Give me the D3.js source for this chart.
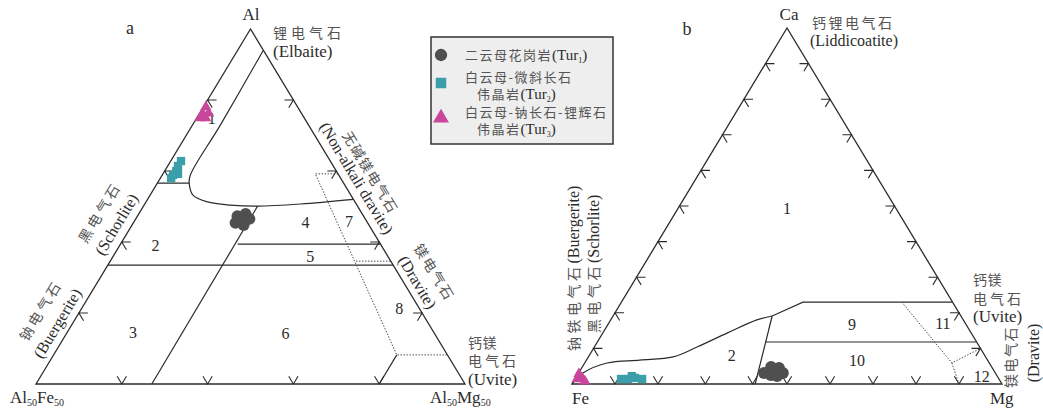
<!DOCTYPE html>
<html>
<head>
<meta charset="utf-8">
<script src="https://cdn.jsdelivr.net/npm/d3@7"></script>
<style>
  body { margin: 0; background: #fff; }
  svg { display: block; }
</style>
</head>
<body>
<svg id="chart" width="1043" height="408"></svg>
<script>
// ---------------------------------------------------------------
// Panel a: Al – Al50Fe50 – Al50Mg50 ternary, values as [Al, Fe, Mg] %
// ---------------------------------------------------------------
const aTicksLeft = [20, 40, 60, 80];
const aTicksRight = [20, 40, 60, 80];
const aTicksBase = [20, 40, 60, 80];

// boundary of field 1 (Li-rich granitoid pegmatites and aplites)
const aField1Curve = [
  [94, 0, 6], [73, 20.5, 6.5], [58.6, 34.8, 6.6], [56.1, 36.2, 7.7],
  [53.2, 36.8, 10.0], [51.3, 34.4, 14.3], [50.4, 29.5, 20.1],
  [50.1, 23.3, 26.6], [50.7, 13.0, 36.3], [52, 0, 48]
];
const aSolidLines = [
  [[56.6, 43.4, 0], [56.6, 36.0, 7.4]],
  [[50.1, 23.3, 26.6], [0, 73, 27]],
  [[39.4, 33.3, 27.3], [39.4, 0, 60.6]],
  [[33.5, 66.5, 0], [33.5, 0, 66.5]],
  [[8.2, 11.8, 80], [0, 20, 80]]
];
const aDottedLines = [
  [[59.2, 0, 40.8], [59.2, 5.3, 35.5], [8.2, 11.8, 80], [8.2, 0, 91.8]],
  [[34.6, 8.1, 57.3], [34.6, 0, 65.4]]
];
const aFieldNames = ["1", "2", "3", "4", "5", "6", "7", "8"];
const aFieldAnchors = [
  [74.9, 21.6, 3.5], [38.9, 52.7, 8.4], [14.4, 70.2, 15.4], [45.6, 14.4, 40.0],
  [35.8, 18.2, 46.0], [14.1, 34.8, 51.1], [45.9, 4.1, 50.0], [21.4, 4.6, 74.0]
];
// two-mica granite (Tur1)
const aTur1 = [
  [47.3, 29.4, 23.3], [47.9, 27.2, 24.9], [46.5, 27.0, 26.5],
  [45.9, 29.1, 25.0], [45.4, 30.8, 23.8], [44.8, 29.2, 26.0]
];
// muscovite-microcline pegmatite (Tur2)
const aTur2 = [
  [62.8, 34.8, 2.4], [61.4, 36.2, 2.4], [60.0, 37.3, 2.7],
  [58.9, 38.6, 2.5], [58.0, 39.5, 2.5], [59.2, 37.3, 3.5]
];
// muscovite-albite-spodumene pegmatite (Tur3)
const aTur3 = [
  [78.0, 21.4, 0.6], [76.3, 23.0, 0.7], [76.3, 21.6, 2.1],
  [74.9, 24.3, 0.8], [74.9, 23.0, 2.1]
];

// ---------------------------------------------------------------
// Panel b: Ca – Fe – Mg ternary, values as [Ca, Fe, Mg] %
// ---------------------------------------------------------------
const bTicksLeft = [10, 20, 30, 40, 50, 60, 70, 80, 90];
const bTicksRight = [10, 20, 30, 40, 50, 60, 70, 80, 90];
const bTicksBase = [10, 20, 31, 42, 50, 60, 70, 80, 90];

const bField2Curve = [
  [0, 100, 0], [3.1, 95.9, 1.0], [5.9, 88.9, 5.2], [6.7, 80.9, 12.4],
  [7.6, 72.7, 19.7], [10.4, 65.7, 23.9], [14.3, 56.8, 28.9],
  [18.0, 48.0, 34.0], [19.1, 43.9, 37.0]
];
const bSolidLines = [
  [[19.1, 43.9, 37.0], [23.0, 34.8, 42.2], [23.0, 0, 77.0]],
  [[19.1, 43.9, 37.0], [0, 57.4, 42.6]],
  [[11.8, 49.1, 39.1], [11.8, 0, 88.2]]
];
const bDottedLines = [
  [[23.0, 11.8, 65.2], [5.9, 8.7, 85.4], [10, 0, 90]],
  [[5.9, 8.7, 85.4], [0, 10, 90]]
];
const bFieldNames = ["1", "2", "9", "10", "11", "12"];
const bFieldAnchors = [
  [49.4, 25.3, 25.3], [8.1, 58.8, 33.1], [16.6, 26.6, 56.8],
  [6.7, 30.4, 62.9], [17.1, 5.2, 77.7], [2.2, 3.6, 94.2]
];
const bTur1 = [
  [3.1, 53.8, 43.1], [4.8, 51.3, 43.9], [4.5, 49.6, 45.9],
  [3.1, 49.4, 47.5], [2.5, 52.5, 45.0], [2.2, 51.2, 46.6]
];
const bTur2 = [
  [1.4, 87.9, 10.7], [1.4, 86.3, 12.3], [1.7, 84.5, 13.8],
  [1.4, 83.0, 15.6], [2.2, 85.0, 12.8]
];
const bTur3 = [
  [1.4, 98.1, 0.5], [1.7, 96.8, 1.5], [2.8, 97.0, 0.2], [0.8, 96.6, 2.6]
];

// legend entries
const legendSeries = ["Tur1", "Tur2", "Tur3"];
const legendLines = [
  [["二云母花岗岩", "1"]],
  [["白云母-微斜长石", null], ["伟晶岩", "2"]],
  [["白云母-钠长石-锂辉石", null], ["伟晶岩", "3"]]
];

// ---------------------------------------------------------------
const SERIF = "'Liberation Serif','Times New Roman',serif";
const CJK = "'Noto Sans CJK SC','Noto Sans CJK JP',sans-serif";
const INK = "#2b2b2b";
const CJK_INK = "#555";
const COLORS = { Tur1: "#4f4f4f", Tur2: "#3a9fa9", Tur3: "#c8469c" };

const svg = d3.select("#chart");

// maps [top, left, right] percentages onto the page through two linear scales
function makeProjection(left, right, base, top) {
  const sx = d3.scaleLinear().domain([0, 100]).range([left, right]);
  const sy = d3.scaleLinear().domain([0, 100]).range([base, top]);
  return ([t, l, r]) => {
    const s = t + l + r;
    const tt = 100 * t / s, rr = 100 * r / s;
    return [sx(rr + tt / 2), sy(tt)];
  };
}

const unit = (p, q) => {
  const dx = q[0] - p[0], dy = q[1] - p[1], n = Math.hypot(dx, dy);
  return [dx / n, dy / n];
};

function drawPanel(g, proj, cfg) {
  const line = d3.line();
  const V = [[100, 0, 0], [0, 100, 0], [0, 0, 100]].map(proj);

  // ternary tick marks: two short arms parallel to the other two sides
  const sides = [
    { vals: cfg.ticksLeft, at: t => [100 - t, t, 0], u: V[0], v: V[1], w: V[2] },
    { vals: cfg.ticksRight, at: t => [100 - t, 0, t], u: V[0], v: V[2], w: V[1] },
    { vals: cfg.ticksBase, at: t => [0, 100 - t, t], u: V[1], v: V[2], w: V[0] }
  ];
  const L = cfg.tickLen;
  sides.forEach(s => {
    const d1 = unit(s.u, s.w), d2 = unit(s.v, s.w);
    g.append("g").selectAll("path").data(s.vals).join("path")
      .attr("d", t => {
        const p = proj(s.at(t));
        return line([[p[0] + L * d1[0], p[1] + L * d1[1]], p,
                      [p[0] + L * d2[0], p[1] + L * d2[1]]]);
      })
      .attr("fill", "none").attr("stroke", INK).attr("stroke-width", 1.1);
  });

  // field boundaries
  g.append("path")
    .attr("d", d3.line().curve(d3.curveCatmullRom.alpha(0.5))(cfg.curve.map(proj)))
    .attr("fill", "none").attr("stroke", INK).attr("stroke-width", 1.2);
  g.append("g").selectAll("path").data(cfg.solid).join("path")
    .attr("d", d => line(d.map(proj)))
    .attr("fill", "none").attr("stroke", INK).attr("stroke-width", 1.2);
  g.append("g").selectAll("path").data(cfg.dotted).join("path")
    .attr("d", d => line(d.map(proj)))
    .attr("fill", "none").attr("stroke", "#444").attr("stroke-width", 1)
    .attr("stroke-dasharray", "1.4,1.6");

  // triangle outline
  g.append("path")
    .attr("d", d3.line().curve(d3.curveLinearClosed)(V))
    .attr("fill", "none").attr("stroke", INK).attr("stroke-width", 1.3);

  // field numbers
  g.append("g").selectAll("text").data(cfg.fieldNames).join("text")
    .attr("x", (d, i) => proj(cfg.fieldAnchors[i])[0])
    .attr("y", (d, i) => proj(cfg.fieldAnchors[i])[1])
    .attr("text-anchor", "middle").attr("dominant-baseline", "central")
    .attr("font-family", SERIF).attr("font-size", 16).attr("fill", INK)
    .text(d => d);

  // samples
  const symbols = [
    { data: cfg.tur1, type: d3.symbolCircle, size: 110, color: COLORS.Tur1 },
    { data: cfg.tur2, type: d3.symbolSquare, size: 70, color: COLORS.Tur2 },
    { data: cfg.tur3, type: d3.symbolTriangle, size: 55, color: COLORS.Tur3 }
  ];
  symbols.forEach(s => {
    g.append("g").selectAll("path").data(s.data).join("path")
      .attr("transform", d => `translate(${proj(d)})`)
      .attr("d", d3.symbol().type(s.type).size(s.size))
      .attr("fill", s.color);
  });
}

const projA = makeProjection(36, 465, 384, 29);
const projB = makeProjection(572, 1002, 384, 28);

drawPanel(svg.append("g"), projA, {
  ticksLeft: aTicksLeft, ticksRight: aTicksRight, ticksBase: aTicksBase, tickLen: 9,
  curve: aField1Curve, solid: aSolidLines, dotted: aDottedLines,
  fieldNames: aFieldNames, fieldAnchors: aFieldAnchors,
  tur1: aTur1, tur2: aTur2, tur3: aTur3
});
drawPanel(svg.append("g"), projB, {
  ticksLeft: bTicksLeft, ticksRight: bTicksRight, ticksBase: bTicksBase, tickLen: 9,
  curve: bField2Curve, solid: bSolidLines, dotted: bDottedLines,
  fieldNames: bFieldNames, fieldAnchors: bFieldAnchors,
  tur1: bTur1, tur2: bTur2, tur3: bTur3
});

// ---------------------------------------------------------------
// text helpers
// ---------------------------------------------------------------
const labels = svg.append("g");

// segments: [text, kind, letterSpacing] with kind "cjk", "latin" or "sub"
function rich(parent, x, y, segs, opt = {}) {
  const t = parent.append("text")
    .attr("text-anchor", opt.anchor || "start")
    .attr("dominant-baseline", opt.baseline || "alphabetic");
  if (opt.rotate !== undefined) {
    t.attr("transform", `translate(${x},${y}) rotate(${opt.rotate})`);
  } else {
    t.attr("x", x).attr("y", y);
  }
  const shift = opt.subShift || 4;
  let shifted = false;
  segs.forEach(([txt, kind, ls]) => {
    const s = t.append("tspan").text(txt);
    if (kind === "cjk") {
      s.attr("font-family", CJK).attr("font-size", opt.cjkSize || 14)
        .attr("fill", CJK_INK).style("letter-spacing", (ls !== undefined ? ls : 2) + "px");
    } else {
      s.attr("font-family", SERIF).attr("font-size", kind === "sub" ? (opt.subSize || 10) : (opt.size || 16))
        .attr("fill", INK).style("letter-spacing", "0px");
    }
    if (kind === "sub" && !shifted) { s.attr("dy", shift); shifted = true; }
    else if (kind !== "sub" && shifted) { s.attr("dy", -shift); shifted = false; }
  });
  return t;
}

const angA = Math.atan2(29 - 384, 250.5 - 36) * 180 / Math.PI; // left side slope of panel a
const mid = { anchor: "middle", baseline: "central" };

// panel a labels
rich(labels, 130, 34, [["a", "latin"]], { anchor: "middle", size: 18 });
rich(labels, 251, 20, [["Al", "latin"]], { anchor: "middle", size: 17 });
rich(labels, 273, 38, [["锂电气石", "cjk", 4]]);
rich(labels, 273, 57, [["(Elbaite)", "latin"]], { size: 17 });
rich(labels, 99, 212, [["黑电气石", "cjk", 3]], { ...mid, rotate: angA });
rich(labels, 116, 224, [["(Schorlite)", "latin"]], { ...mid, rotate: angA });
rich(labels, 40, 310, [["钠电气石", "cjk", 3]], { ...mid, rotate: angA });
rich(labels, 57, 323, [["(Buergerite)", "latin"]], { ...mid, rotate: angA });
rich(labels, 371, 172, [["无碱镁电气石", "cjk", 1.5]], { ...mid, rotate: -angA });
rich(labels, 357, 178, [["(Non-alkali dravite)", "latin"]], { ...mid, rotate: -angA });
rich(labels, 435, 272, [["镁电气石", "cjk", 2]], { ...mid, rotate: -angA });
rich(labels, 418, 282, [["(Dravite)", "latin"]], { ...mid, rotate: -angA });
rich(labels, 468, 348, [["钙镁", "cjk", 0.5]]);
rich(labels, 468, 366, [["电气石", "cjk", 3]]);
rich(labels, 468, 385, [["(Uvite)", "latin"]], { size: 17 });
rich(labels, 10, 403, [["Al", "latin"], ["50", "sub"], ["Fe", "latin"], ["50", "sub"]], { size: 17, subShift: 3 });
rich(labels, 430, 403, [["Al", "latin"], ["50", "sub"], ["Mg", "latin"], ["50", "sub"]], { size: 17, subShift: 3 });

// panel b labels
rich(labels, 687, 35, [["b", "latin"]], { anchor: "middle", size: 18 });
rich(labels, 789, 20, [["Ca", "latin"]], { anchor: "middle", size: 17 });
rich(labels, 812, 28, [["钙锂电气石", "cjk", 2.5]]);
rich(labels, 810, 46, [["(Liddicoatite)", "latin"]]);
rich(labels, 973, 285, [["钙镁", "cjk", 0.5]]);
rich(labels, 973, 304, [["电气石", "cjk", 3]]);
rich(labels, 973, 322, [["(Uvite)", "latin"]], { size: 17 });
rich(labels, 1010, 357, [["镁电气石", "cjk", 1.5]], { ...mid, rotate: -90 });
rich(labels, 1033, 353, [["(Dravite)", "latin"]], { ...mid, rotate: -90 });
rich(labels, 573, 351, [["钠铁电气石", "cjk", 3.5], ["(Buergerite)", "latin"]], { baseline: "central", rotate: -90 });
rich(labels, 593, 333, [["黑电气石", "cjk", 3.5], ["(Schorlite)", "latin"]], { baseline: "central", rotate: -90 });
rich(labels, 572, 404, [["Fe", "latin"]], { size: 17 });
rich(labels, 990, 404, [["Mg", "latin"]], { size: 17 });

// ---------------------------------------------------------------
// legend
// ---------------------------------------------------------------
const legend = svg.append("g");
legend.append("rect")
  .attr("x", 431).attr("y", 37).attr("width", 182).attr("height", 107)
  .attr("fill", "#eeeeee").attr("stroke", "#333").attr("stroke-width", 1.5);

const legendSymbols = [d3.symbolCircle, d3.symbolSquare, d3.symbolTriangle];
const legendSizes = [120, 110, 110];
const legendRowY = [55, 83, 118];
legendSeries.forEach((key, i) => {
  legend.append("path")
    .attr("transform", `translate(441,${legendRowY[i]})`)
    .attr("d", d3.symbol().type(legendSymbols[i]).size(legendSizes[i]))
    .attr("fill", COLORS[key]);
  const rows = legendLines[i];
  rows.forEach(([txt, sub], j) => {
    const y = rows.length === 1 ? legendRowY[i] + 5 : legendRowY[i] - 1 + j * 17;
    const x = j === 0 ? 465 : 477;
    const segs = [[txt, "cjk", 1.5]];
    if (sub) segs.push(["(Tur", "latin"], [sub, "sub"], [")", "latin"]);
    rich(legend, x, y, segs, { cjkSize: 13, size: 15, subSize: 8, subShift: 3 });
  });
});
</script>
</body>
</html>
